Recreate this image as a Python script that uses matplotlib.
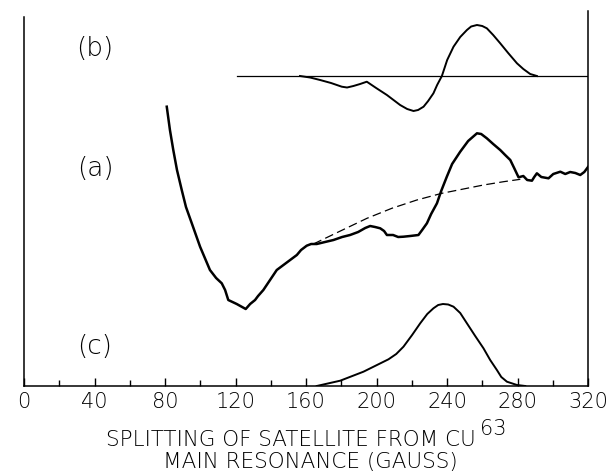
import matplotlib
matplotlib.use("Agg")
import matplotlib.pyplot as plt
import numpy as np

# ---- data (x in gauss, y in arbitrary display units) ----
a_x = [81.0, 82.8, 84.7, 86.8, 89.5, 91.9, 95.2, 99.9, 105.5, 109.0, 112.2, 114.1, 115.9,
       120.7, 125.8, 128.3, 131.1, 132.8, 135.8, 139.6, 143.4, 147.2, 151.0, 154.8, 157.2,
       160.4, 162.9, 166.1, 170.8, 175.6, 180.5, 185.0, 189.6, 193.6, 196.4, 199.2, 202.1,
       204.3, 205.9, 209.4, 212.3, 215.3, 219.1, 223.8, 225.9, 228.6, 231.0, 234.3, 236.7,
       239.9, 242.9, 247.5, 252.0, 257.0, 259.4, 262.6, 266.2, 270.2, 273.0, 275.9, 278.1,
       280.6, 283.3, 285.5, 288.2, 289.5, 291.0, 293.5, 297.6, 300.3, 304.3, 307.1, 309.9,
       312.8, 315.6, 317.9, 320.0]
a_y = [279.3, 256, 236, 216, 196, 179, 162.7, 139.3, 116, 108, 102.7, 96, 86,
       82, 77, 82, 86, 90, 96, 106, 116, 121, 126, 131, 136,
       140.3, 142, 142, 144, 146, 149, 151, 154, 158, 160, 159, 157.7,
       155, 151, 151, 149, 149.3, 150, 151, 156, 162.7, 172, 182.7, 195,
       209.3, 222, 234.3, 245, 252.7, 252, 247.7, 242, 236, 231, 226, 218,
       208.7, 210, 206, 205.3, 209, 212.7, 209, 207.7, 212, 214.3, 212, 214,
       213, 211, 214, 219]

dash_x = [164.2, 177.5, 194.6, 208.7, 222.9, 237.1, 260.7, 272.1, 281.6]
dash_y = [142, 153.3, 167.7, 177.7, 186, 192.7, 201, 204.3, 206.7]

b_base = 310
b_base_x = [121, 320]
b_x = [156.6, 162.3, 168.0, 174.2, 180.3, 183.3, 186.9, 190.7, 194.5, 199.8, 205.9, 213.4,
       217.4, 221.0, 223.6, 226.7, 229.3, 232.3, 234.4, 237.1, 240.1, 243.7, 247.5, 251.3,
       253.7, 257.0, 260.0, 262.6, 266.2, 270.2, 274.7, 279.7, 283.3, 287.2, 291.0]
b_y = [310, 308.5, 306, 303, 299.3, 298.5, 300, 302, 304.3, 298, 291, 281,
       277, 275, 276, 279.3, 285, 292.7, 301, 310, 326, 339.3, 349, 356,
       359.5, 361, 360, 357.7, 351, 342.7, 333, 322.7, 317, 312, 310]

c_x = [166.1, 179.4, 192.6, 206.8, 211.2, 215.3, 220.2, 224.8, 228.8, 232.3, 235.0, 237.7,
       240.7, 243.7, 247.5, 251.3, 256.0, 260.7, 264.5, 268.3, 270.8, 274.0, 279.7, 284.4]
c_y = [0, 5.3, 14.3, 26.7, 32, 39.3, 51, 62.7, 72, 77.7, 81, 82,
       81.5, 79.3, 73, 62.7, 50, 37.7, 26, 16, 9, 4.3, 1, 0]

labels = ["(b)", "(a)", "(c)"]
label_x = [40.3, 40.3, 39.8]
label_y = [338, 217, 39]

major_ticks = [0, 40, 80, 120, 160, 200, 240, 280, 320]
minor_ticks = [20, 60, 100, 140, 180, 220, 260, 300]

xlabel1 = "SPLITTING OF SATELLITE FROM CU"
xlabel_sup = "63"
xlabel2 = "MAIN RESONANCE (GAUSS)"

# ---- figure ----
W, H = 612, 474
fig = plt.figure(figsize=(W / 100, H / 100), dpi=100)
ax = fig.add_axes([24 / W, (H - 386) / H, (588 - 24) / W, (386 - 11) / H])
ax.set_xlim(0, 320)
ax.set_ylim(0, 375)

font = dict(family="DejaVu Sans", weight="light")

ax.plot(a_x, a_y, color="black", lw=1.8, solid_joinstyle="round")
ax.plot(dash_x, dash_y, color="black", lw=0.9, dashes=(7, 3.5))
ax.plot(b_base_x, [b_base, b_base], color="black", lw=0.9)
ax.plot(b_x, b_y, color="black", lw=1.4, solid_joinstyle="round")
ax.plot(c_x, c_y, color="black", lw=1.4, solid_joinstyle="round")

for t, x, y in zip(labels, label_x, label_y):
    ax.text(x, y, t, ha="center", va="center", fontsize=19, **font)

ax.spines["top"].set_visible(False)
for s in ["left", "right", "bottom"]:
    ax.spines[s].set_linewidth(1.1)
ax.spines["left"].set_bounds(0, 369)

ax.set_yticks([])
ax.set_xticks(major_ticks)
ax.set_xticks(minor_ticks, minor=True)
ax.set_xticklabels([str(v) for v in major_ticks], fontsize=15, **font)
ax.tick_params(axis="x", which="major", direction="in", length=6, width=1.0, pad=4)
ax.tick_params(axis="x", which="minor", direction="in", length=4, width=1.0)

# x label (two lines, superscript)
renderer = fig.canvas.get_renderer()
t1 = fig.text(0, 0, xlabel1, fontsize=15.5, **font)
ts = fig.text(0, 0, xlabel_sup, fontsize=15, **font)
w1 = t1.get_window_extent(renderer).width
ws = ts.get_window_extent(renderer).width
gap = 4
total = w1 + gap + ws
cx = 306.5
x0 = cx - total / 2
t1.set_position((x0 / W, (H - 446) / H))
ts.set_position(((x0 + w1 + gap) / W, (H - 435) / H))
fig.text(310 / W, (H - 468) / H, xlabel2, fontsize=15.5, ha="center", **font)

fig.savefig("out.png", dpi=100)
